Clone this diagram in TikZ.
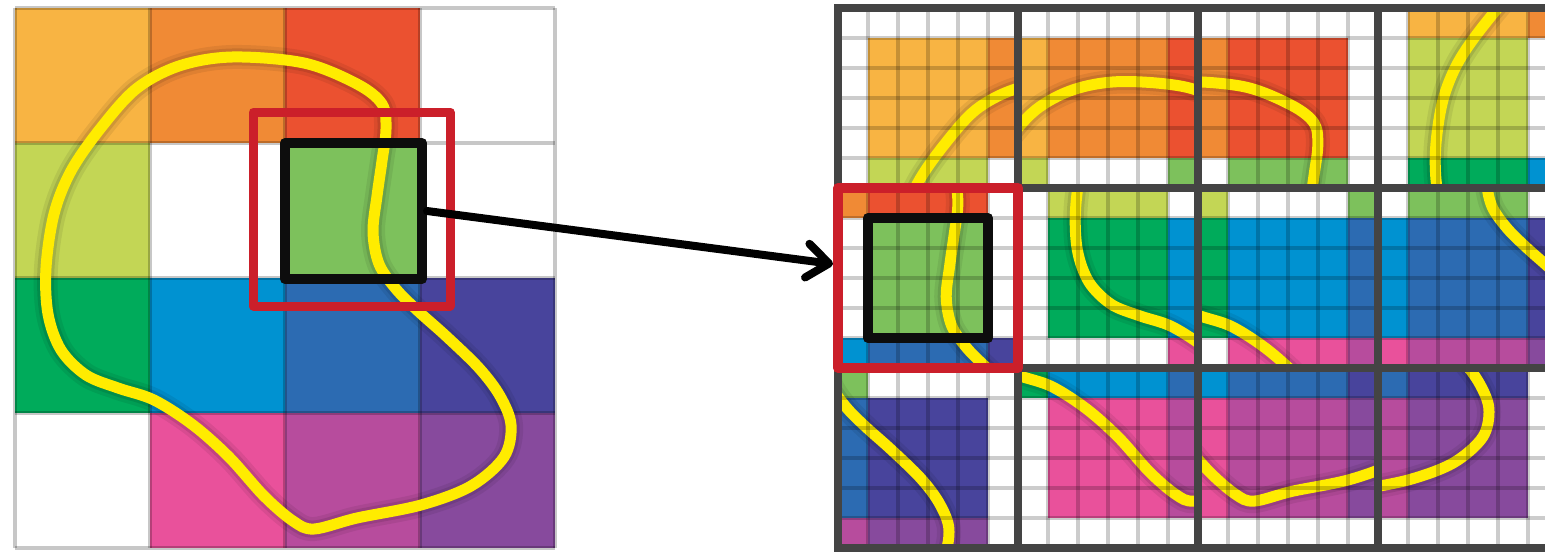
\documentclass[tikz,border=0pt]{standalone}
\usetikzlibrary{arrows.meta}
\definecolor{YO}{HTML}{F8B443}
\definecolor{OR}{HTML}{F08A35}
\definecolor{RD}{HTML}{EB5130}
\definecolor{YG}{HTML}{C3D655}
\definecolor{LG}{HTML}{7DC15C}
\definecolor{DG}{HTML}{00AB5B}
\definecolor{BL}{HTML}{0092D1}
\definecolor{BB}{HTML}{2C6BB2}
\definecolor{IN}{HTML}{48449C}
\definecolor{PK}{HTML}{E9519B}
\definecolor{MG}{HTML}{B74C9D}
\definecolor{PU}{HTML}{874A9D}
\definecolor{CurveYellow}{HTML}{FFEC00}
\definecolor{BoxRed}{HTML}{CB1F2A}
\definecolor{TileGrey}{HTML}{444444}
% cell colours, indices shifted by +1 (0 and 5 = outside the image)
\foreach \a in {0,...,5}{\foreach \b in {0,...,5}{\xglobal\colorlet{cell\a\b}{white}}}
\colorlet{cell11}{YO}\colorlet{cell12}{OR}\colorlet{cell13}{RD}
\colorlet{cell21}{YG}\colorlet{cell23}{LG}
\colorlet{cell31}{DG}\colorlet{cell32}{BL}\colorlet{cell33}{BB}\colorlet{cell34}{IN}
\colorlet{cell42}{PK}\colorlet{cell43}{MG}\colorlet{cell44}{PU}
\tikzset{
  cellgrid/.style={black, opacity=0.22, line width=2pt},
  subgrid/.style={black, opacity=0.2, line width=1.9pt},
  tileborder/.style={TileGrey, line width=3.7pt, line cap=rect},
  curveshadow/.style={black, opacity=0.07, line width=12pt},
  curveline/.style={CurveYellow, line width=5.5pt},
  redbox/.style={draw=BoxRed, line width=4.5pt, line join=round, inner sep=0pt},
  blackbox/.style={draw=black!95, line width=5pt, line join=round, inner sep=0pt},
  pointer/.style={black, line width=4pt, line cap=round,
    -{Straight Barb[length=11pt,width=17pt,round]}},
}
\newcommand\contourpath{plot[smooth cycle, tension=0.55] coordinates {
 (382,104) (357,84) (304,63) (232,57) (179,66) (136,89) (100,129) (71,171)
 (54,214) (46,268) (48,314) (61,350) (86,375) (118,388) (154,400) (193,425)
 (229,457) (264,496) (293,521) (314,529) (357,518) (421,505) (471,486)
 (504,457) (511,425) (500,396) (479,368) (446,336) (418,311) (396,289)
 (379,264) (373,232) (377,196) (382,161) (386,129)}}
\newcommand\drawcontour{%
  \draw[curveshadow] \contourpath;
  \draw[curveshadow, opacity=0.1, line width=8.5pt] \contourpath;
  \draw[curveline] \contourpath;}
% #1 tile row, #2 tile column, #3 cell row, #4 cell column
\newcommand\paddedtile[4]{%
  \pgfmathsetmacro\tX{838+180*#2}%
  \pgfmathsetmacro\tY{8+180*#1}%
  \foreach \i in {0,...,5}{\foreach \j in {0,...,5}{
    \pgfmathtruncatemacro\a{#3+1+(\i==0?-1:(\i==5?1:0))}
    \pgfmathtruncatemacro\b{#4+1+(\j==0?-1:(\j==5?1:0))}
    \fill[cell\a\b] ({\tX+30*\j},{\tY+30*\i}) rectangle +(30,30);
  }}
  \begin{scope}
    \clip (\tX,\tY) rectangle +(180,180);
    \pgfmathsetmacro\sX{\tX+30-120*#4-13.33333}%
    \pgfmathsetmacro\sY{\tY+30-120*#3-7.11111}%
    \begin{scope}[shift={(\sX,\sY)}, scale=0.888889]
      \drawcontour
    \end{scope}
  \end{scope}
  \foreach \k in {1,...,5}{
    \draw[subgrid] ({\tX+30*\k},\tY) -- +(0,180);
    \draw[subgrid] (\tX,{\tY+30*\k}) -- +(180,0);
  }%
}
\begin{document}
\begin{tikzpicture}[x=0.5pt,y=-0.5pt]
\path[use as bounding box] (0,0) rectangle (1545,552);
\clip (0,0) rectangle (1545,552);
\fill[white] (0,0) rectangle (1545,552);
% ---------- left image ----------
\foreach \r in {0,...,3}{\foreach \c in {0,...,3}{
  \pgfmathtruncatemacro\a{\r+1}\pgfmathtruncatemacro\b{\c+1}
  \fill[cell\a\b] ({15+135*\c},{8+135*\r}) rectangle +(135,135);
}}
\foreach \k in {0,...,4}{
  \draw[cellgrid] ({15+135*\k},8) -- ({15+135*\k},548);
  \draw[cellgrid] (15,{8+135*\k}) -- (555,{8+135*\k});
}
\drawcontour
\node[blackbox, minimum width=68.5pt, minimum height=68pt] (srcblack) at (353.5,211) {};
\node[redbox, minimum width=98.5pt, minimum height=97pt] (srcred) at (351.5,209) {};
% ---------- right: padded tiles ----------
\paddedtile{0}{0}{0}{0}
\paddedtile{0}{1}{0}{1}
\paddedtile{0}{2}{0}{2}
\paddedtile{0}{3}{1}{0}
\paddedtile{1}{0}{1}{2}
\paddedtile{1}{1}{2}{0}
\paddedtile{1}{2}{2}{1}
\paddedtile{1}{3}{2}{2}
\paddedtile{2}{0}{2}{3}
\paddedtile{2}{1}{3}{1}
\paddedtile{2}{2}{3}{2}
\paddedtile{2}{3}{3}{3}
\foreach \k in {0,...,4}{\draw[tileborder] ({838+180*\k},8) -- ({838+180*\k},548);}
\foreach \k in {0,...,3}{\draw[tileborder] (838,{8+180*\k}) -- (1558,{8+180*\k});}
\node[blackbox, minimum width=60pt, minimum height=60pt] (dstblack) at (928,278) {};
\node[redbox, line width=5pt, minimum width=90pt, minimum height=90pt] (dstred) at (928,278) {};
\draw[pointer] (srcblack.east) -- ([yshift=7pt]dstred.west);
\end{tikzpicture}
\end{document}
